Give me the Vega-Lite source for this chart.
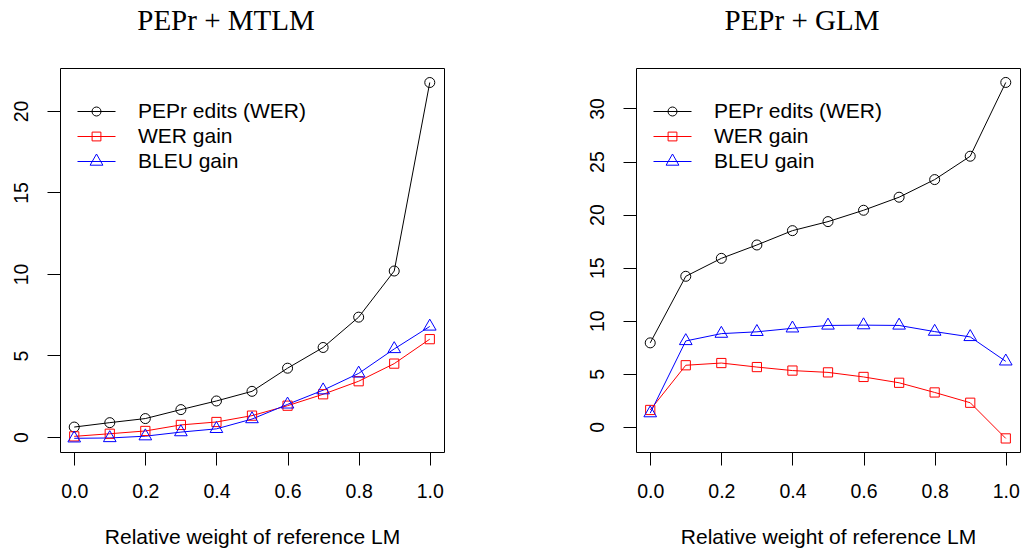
{
  "$schema": "https://vega.github.io/schema/vega-lite/v6.json",
  "background": "white",
  "padding": {"left": 10, "top": 6, "right": 0, "bottom": 0},
  "bounds": "flush",
  "spacing": 192,
  "config": {
    "font": "Liberation Sans",
    "view": {"stroke": "black", "strokeWidth": 1},
    "axis": {
      "grid": false, "domain": false, "tickColor": "black", "tickSize": 13, "tickWidth": 1,
      "labelColor": "black", "labelFont": "Liberation Sans", "labelFontSize": 19.5,
      "titleFont": "Liberation Sans", "titleFontSize": 21, "titleFontWeight": "normal", "titleColor": "black"
    },
    "axisX": {"labelPadding": 17, "titlePadding": 26, "labelFlush": false},
    "axisY": {"labelAngle": 270, "labelAlign": "center", "labelBaseline": "alphabetic", "labelPadding": 19.5, "title": null},
    "legend": {
      "orient": "none", "legendX": 26, "legendY": 33, "padding": 0, "title": null,
      "labelFont": "Liberation Sans", "labelFontSize": 21, "labelColor": "black", "labelOffset": 31, "labelLimit": 0,
      "rowPadding": 3, "symbolSize": 4, "symbolStrokeWidth": 1
    },
    "title": {
      "font": "Liberation Serif", "fontSize": 29, "fontWeight": "normal", "color": "black",
      "anchor": "middle", "frame": "group", "dx": -26, "baseline": "alphabetic", "offset": 32
    }
  },
  "datasets": {
    "mtlm": [
      {"w": 0.0, "series": "PEPr edits (WER)", "value": 0.61},
      {"w": 0.1, "series": "PEPr edits (WER)", "value": 0.88},
      {"w": 0.2, "series": "PEPr edits (WER)", "value": 1.13},
      {"w": 0.3, "series": "PEPr edits (WER)", "value": 1.68},
      {"w": 0.4, "series": "PEPr edits (WER)", "value": 2.21},
      {"w": 0.5, "series": "PEPr edits (WER)", "value": 2.80},
      {"w": 0.6, "series": "PEPr edits (WER)", "value": 4.22},
      {"w": 0.7, "series": "PEPr edits (WER)", "value": 5.49},
      {"w": 0.8, "series": "PEPr edits (WER)", "value": 7.35},
      {"w": 0.9, "series": "PEPr edits (WER)", "value": 10.18},
      {"w": 1.0, "series": "PEPr edits (WER)", "value": 21.74},
      {"w": 0.0, "series": "WER gain", "value": 0.04},
      {"w": 0.1, "series": "WER gain", "value": 0.20},
      {"w": 0.2, "series": "WER gain", "value": 0.37},
      {"w": 0.3, "series": "WER gain", "value": 0.74},
      {"w": 0.4, "series": "WER gain", "value": 0.92},
      {"w": 0.5, "series": "WER gain", "value": 1.31},
      {"w": 0.6, "series": "WER gain", "value": 1.92},
      {"w": 0.7, "series": "WER gain", "value": 2.62},
      {"w": 0.8, "series": "WER gain", "value": 3.42},
      {"w": 0.9, "series": "WER gain", "value": 4.50},
      {"w": 1.0, "series": "WER gain", "value": 6.00},
      {"w": 0.0, "series": "BLEU gain", "value": -0.08},
      {"w": 0.1, "series": "BLEU gain", "value": -0.06},
      {"w": 0.2, "series": "BLEU gain", "value": 0.05},
      {"w": 0.3, "series": "BLEU gain", "value": 0.30},
      {"w": 0.4, "series": "BLEU gain", "value": 0.50},
      {"w": 0.5, "series": "BLEU gain", "value": 1.10},
      {"w": 0.6, "series": "BLEU gain", "value": 2.00},
      {"w": 0.7, "series": "BLEU gain", "value": 2.87},
      {"w": 0.8, "series": "BLEU gain", "value": 3.90},
      {"w": 0.9, "series": "BLEU gain", "value": 5.40},
      {"w": 1.0, "series": "BLEU gain", "value": 6.78}
    ],
    "glm": [
      {"w": 0.0, "series": "PEPr edits (WER)", "value": 7.92},
      {"w": 0.1, "series": "PEPr edits (WER)", "value": 14.19},
      {"w": 0.2, "series": "PEPr edits (WER)", "value": 15.88},
      {"w": 0.3, "series": "PEPr edits (WER)", "value": 17.14},
      {"w": 0.4, "series": "PEPr edits (WER)", "value": 18.49},
      {"w": 0.5, "series": "PEPr edits (WER)", "value": 19.34},
      {"w": 0.6, "series": "PEPr edits (WER)", "value": 20.41},
      {"w": 0.7, "series": "PEPr edits (WER)", "value": 21.64},
      {"w": 0.8, "series": "PEPr edits (WER)", "value": 23.30},
      {"w": 0.9, "series": "PEPr edits (WER)", "value": 25.50},
      {"w": 1.0, "series": "PEPr edits (WER)", "value": 32.45},
      {"w": 0.0, "series": "WER gain", "value": 1.60},
      {"w": 0.1, "series": "WER gain", "value": 5.81},
      {"w": 0.2, "series": "WER gain", "value": 6.02},
      {"w": 0.3, "series": "WER gain", "value": 5.64},
      {"w": 0.4, "series": "WER gain", "value": 5.31},
      {"w": 0.5, "series": "WER gain", "value": 5.14},
      {"w": 0.6, "series": "WER gain", "value": 4.71},
      {"w": 0.7, "series": "WER gain", "value": 4.16},
      {"w": 0.8, "series": "WER gain", "value": 3.25},
      {"w": 0.9, "series": "WER gain", "value": 2.28},
      {"w": 1.0, "series": "WER gain", "value": -1.08},
      {"w": 0.0, "series": "BLEU gain", "value": 1.30},
      {"w": 0.1, "series": "BLEU gain", "value": 8.10},
      {"w": 0.2, "series": "BLEU gain", "value": 8.79},
      {"w": 0.3, "series": "BLEU gain", "value": 8.96},
      {"w": 0.4, "series": "BLEU gain", "value": 9.29},
      {"w": 0.5, "series": "BLEU gain", "value": 9.56},
      {"w": 0.6, "series": "BLEU gain", "value": 9.59},
      {"w": 0.7, "series": "BLEU gain", "value": 9.56},
      {"w": 0.8, "series": "BLEU gain", "value": 8.98},
      {"w": 0.9, "series": "BLEU gain", "value": 8.48},
      {"w": 1.0, "series": "BLEU gain", "value": 6.18}
    ]
  },
  "resolve": {"scale": {"color": "independent"}},
  "hconcat": [
    {
      "width": 384, "height": 384,
      "title": "PEPr + MTLM",
      "data": {"name": "mtlm"},
      "encoding": {
        "x": {"field": "w", "type": "quantitative", "scale": {"domain": [-0.04, 1.04], "nice": false, "zero": false},
              "axis": {"values": [0, 0.2, 0.4, 0.6, 0.8, 1.0], "format": ".1f", "title": "Relative weight of reference LM"}},
        "y": {"field": "value", "type": "quantitative", "scale": {"domain": [-0.92, 22.63], "nice": false, "zero": false},
              "axis": {"values": [0, 5, 10, 15, 20], "title": null}},
        "color": {"field": "series", "type": "nominal",
                  "scale": {"domain": ["PEPr edits (WER)", "WER gain", "BLEU gain"], "range": ["#000000", "#FF0000", "#0000FF"]},
                  "legend": {"encode": {"symbols": {"update": {
                    "shape": {"signal": "datum.value === 'PEPr edits (WER)' ? 'M -19 0 L 19 0 M -4.5 0 A 4.5 4.5 0 1 0 4.5 0 A 4.5 4.5 0 1 0 -4.5 0' : datum.value === 'WER gain' ? 'M -19 0 L 19 0 M -4.4 -4.4 L 4.4 -4.4 L 4.4 4.4 L -4.4 4.4 Z' : 'M -19 0 L 19 0 M 0 -7.5 L -6.4 3.7 L 6.4 3.7 Z'"},
                    "size": {"value": 4}, "fill": {"value": "transparent"}, "strokeWidth": {"value": 1}, "opacity": {"value": 1}}}}}}
      },
      "layer": [
        {"mark": {"type": "line", "strokeWidth": 1}},
        {"transform": [{"filter": {"field": "series", "equal": "PEPr edits (WER)"}}],
         "mark": {"type": "point", "shape": "circle", "size": 100, "filled": false, "strokeWidth": 1, "opacity": 1}},
        {"transform": [{"filter": {"field": "series", "equal": "WER gain"}}],
         "mark": {"type": "point", "shape": "square", "size": 85, "filled": false, "strokeWidth": 1, "opacity": 1}},
        {"transform": [{"filter": {"field": "series", "equal": "BLEU gain"}}],
         "mark": {"type": "point", "shape": "M 0 -1.155 L -1 0.577 L 1 0.577 Z", "size": 160, "filled": false, "strokeWidth": 1, "opacity": 1}}
      ]
    },
    {
      "width": 384, "height": 384,
      "title": "PEPr + GLM",
      "data": {"name": "glm"},
      "encoding": {
        "x": {"field": "w", "type": "quantitative", "scale": {"domain": [-0.04, 1.04], "nice": false, "zero": false},
              "axis": {"values": [0, 0.2, 0.4, 0.6, 0.8, 1.0], "format": ".1f", "title": "Relative weight of reference LM"}},
        "y": {"field": "value", "type": "quantitative", "scale": {"domain": [-2.36, 33.81], "nice": false, "zero": false},
              "axis": {"values": [0, 5, 10, 15, 20, 25, 30], "title": null}},
        "color": {"field": "series", "type": "nominal",
                  "scale": {"domain": ["PEPr edits (WER)", "WER gain", "BLEU gain"], "range": ["#000000", "#FF0000", "#0000FF"]},
                  "legend": {"encode": {"symbols": {"update": {
                    "shape": {"signal": "datum.value === 'PEPr edits (WER)' ? 'M -19 0 L 19 0 M -4.5 0 A 4.5 4.5 0 1 0 4.5 0 A 4.5 4.5 0 1 0 -4.5 0' : datum.value === 'WER gain' ? 'M -19 0 L 19 0 M -4.4 -4.4 L 4.4 -4.4 L 4.4 4.4 L -4.4 4.4 Z' : 'M -19 0 L 19 0 M 0 -7.5 L -6.4 3.7 L 6.4 3.7 Z'"},
                    "size": {"value": 4}, "fill": {"value": "transparent"}, "strokeWidth": {"value": 1}, "opacity": {"value": 1}}}}}}
      },
      "layer": [
        {"mark": {"type": "line", "strokeWidth": 1}},
        {"transform": [{"filter": {"field": "series", "equal": "PEPr edits (WER)"}}],
         "mark": {"type": "point", "shape": "circle", "size": 100, "filled": false, "strokeWidth": 1, "opacity": 1}},
        {"transform": [{"filter": {"field": "series", "equal": "WER gain"}}],
         "mark": {"type": "point", "shape": "square", "size": 85, "filled": false, "strokeWidth": 1, "opacity": 1}},
        {"transform": [{"filter": {"field": "series", "equal": "BLEU gain"}}],
         "mark": {"type": "point", "shape": "M 0 -1.155 L -1 0.577 L 1 0.577 Z", "size": 160, "filled": false, "strokeWidth": 1, "opacity": 1}}
      ]
    }
  ]
}
